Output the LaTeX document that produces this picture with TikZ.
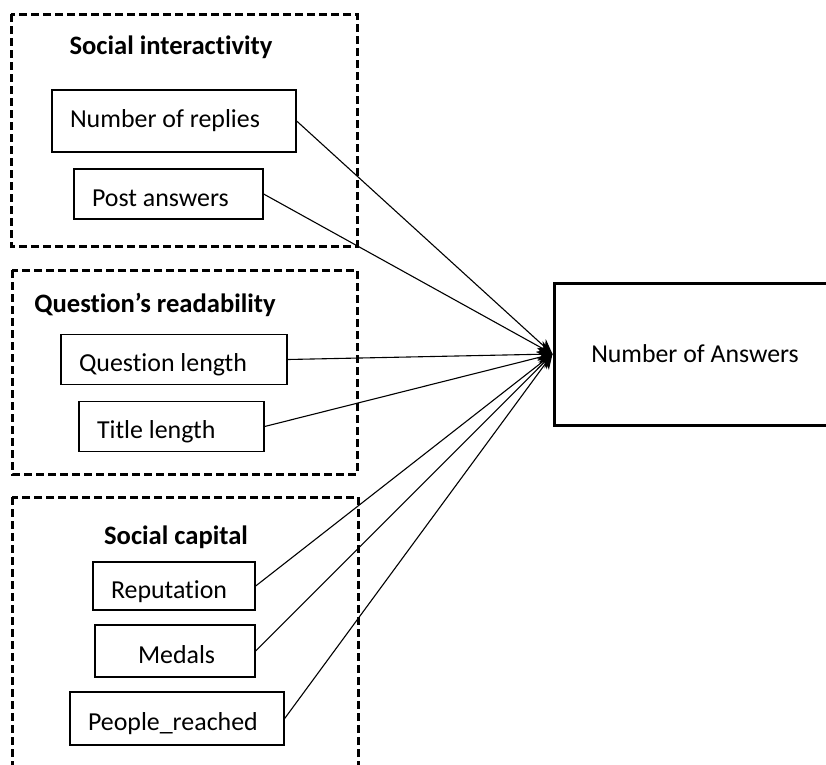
\documentclass[tikz,border=0pt]{standalone}
\usepackage{fontspec}
\setmainfont[Ligatures=NoCommon]{Carlito}
\usepackage{tikz}
\usetikzlibrary{arrows.meta}
\tikzstyle{varbox}=[rectangle,draw=black,line width=1.3pt,
                    font=\fontsize{25.9}{30}\selectfont,inner xsep=18pt,inner ysep=4pt,
                    minimum height=50pt,text height=26pt,text depth=2pt,
                    execute at begin node={\spaceskip=0pt\xspaceskip=0pt}]
\tikzstyle{groupbox}=[draw=black,line width=3pt,dash pattern=on 8pt off 4pt]
\tikzstyle{grouptitle}=[font=\fontsize{26.6}{31}\selectfont\bfseries]
\tikzstyle{link}=[line width=1.1pt,-{Stealth[length=15pt,width=13pt]}]

\begin{document}
\begin{tikzpicture}[x=1pt,y=-1pt]
    \useasboundingbox (0,0) rectangle (826,764);
    % the three groups of factors
    \draw [groupbox] (11,14) rectangle (357,246);
    \draw [groupbox] (12,270) rectangle (357,474);
    \draw [groupbox] (12,497) rectangle (358,790);
    \node [grouptitle] (Interactivity) at (171,47) {Social interactivity};
    \node [grouptitle] (Readability) at (155,305) {Question’s readability};
    \node [grouptitle] (Capital) at (176,537) {Social capital};

    \node [varbox,text width=208pt,minimum height=62pt,text height=18pt,text depth=5pt] (Replies) at (174,121) {Number of replies};
    \node [varbox,text width=153pt] (Posts) at (168.5,194) {Post answers};
    \node [varbox,text width=190pt] (QLength) at (174,359.5) {Question length};
    \node [varbox,text width=149pt] (TLength) at (171.5,426.5) {Title length};
    \node [varbox,text width=126pt,minimum height=48pt] (Reputation) at (174,586) {Reputation};
    \node [varbox,text width=124pt,minimum height=52pt] (Medals) at (175,651) {\hspace*{25pt}Medals};
    \node [varbox,text width=178pt,minimum height=53pt] (People) at (177,718.5) {People\_reached};

    % outcome
    \node [rectangle,draw=black,line width=3pt,minimum width=286pt,minimum height=142pt,
           font=\fontsize{25.8}{30}\selectfont] (Answers) at (697,354) {\hspace*{-4pt}Number of Answers};

    \foreach \src in {Replies,Posts,QLength,TLength,Reputation,Medals,People}
        \draw [link] (\src.east) -- (Answers.west);
\end{tikzpicture}
\end{document}
